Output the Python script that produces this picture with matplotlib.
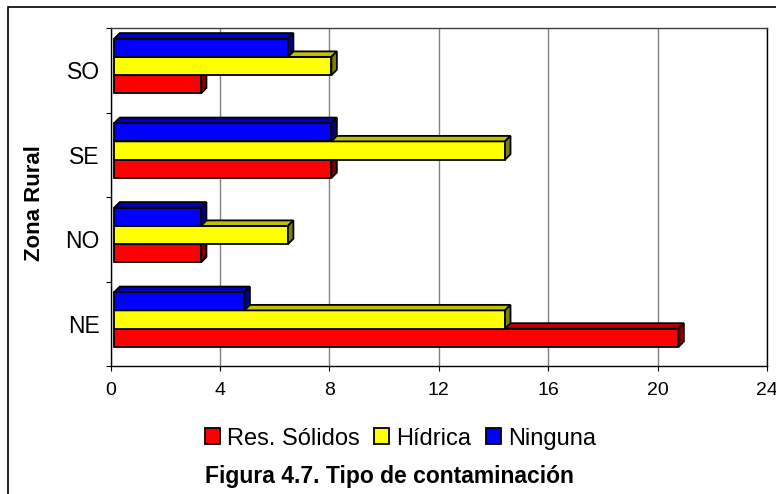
import matplotlib
matplotlib.use("Agg")
import matplotlib.pyplot as plt
from matplotlib.patches import Polygon, Rectangle, Patch

# porcentaje por zona rural y tipo de contaminacion
zonas = ['NE', 'NO', 'SE', 'SO']
series = ['Res. Sólidos', 'Hídrica', 'Ninguna']
res_solidos = [20.63, 3.17, 7.94, 3.17]
hidrica = [14.29, 6.35, 14.29, 7.94]
ninguna = [4.76, 3.17, 7.94, 6.35]
xticks = [0, 4, 8, 12, 16, 20, 24]

colores = ['#FF0000', '#FFFF00', '#0000FF']
techo = ['#C00000', '#C0C000', '#0000C0']
lado = ['#800000', '#808000', '#000080']

plt.rcParams['font.family'] = ['Liberation Sans', 'DejaVu Sans']

fig = plt.figure(figsize=(7.76, 4.94), dpi=100)
ax = fig.add_axes([0.1427, 0.2591, 0.8457, 0.6842])
ax.set_xlim(0, 24)
ax.set_ylim(-0.5, 3.5)

# barras con efecto 3d: cara frontal, techo y lado
alto = 0.2166
x0 = 0.13     # corrimiento de la cara frontal
dx = 0.20     # profundidad en x
dy = 0.065    # profundidad en y
subida = 0.05

valores = [res_solidos, hidrica, ninguna]
for j, vals in enumerate(valores):
    for i, v in enumerate(vals):
        yc = i + subida + (j - 1) * alto
        y1 = yc - alto / 2
        y2 = yc + alto / 2
        ax.barh(yc, v, height=alto, left=x0, color=colores[j],
                edgecolor='black', linewidth=1.3, zorder=3 + j)
        top = Polygon([(x0, y2), (x0 + dx, y2 + dy), (x0 + v + dx, y2 + dy),
                       (x0 + v, y2)], closed=True, facecolor=techo[j],
                      edgecolor='black', linewidth=1.3, zorder=3 + j)
        side = Polygon([(x0 + v, y1), (x0 + v + dx, y1 + dy),
                        (x0 + v + dx, y2 + dy), (x0 + v, y2)], closed=True,
                       facecolor=lado[j], edgecolor='black', linewidth=1.3,
                       zorder=3 + j)
        ax.add_patch(top)
        ax.add_patch(side)

ax.set_xticks(xticks)
ax.set_xticklabels([str(t) for t in xticks], fontsize=14)
ax.tick_params(axis='x', direction='out', length=3.6, width=0.8, pad=8)
ax.grid(axis='x', color='#808080', linewidth=1, zorder=0)
ax.set_axisbelow(True)

ax.set_yticks([-0.5, 0.5, 1.5, 2.5, 3.5])
ax.set_yticklabels([])
ax.tick_params(axis='y', which='major', direction='out', length=3.6, width=0.8)
ax.set_yticks(range(len(zonas)), minor=True)
ax.set_yticklabels(zonas, minor=True, fontsize=16.5)
ax.tick_params(axis='y', which='minor', length=0, pad=8)

for s in ['left', 'bottom', 'right']:
    ax.spines[s].set_color('black')
    ax.spines[s].set_linewidth(1)
ax.spines['top'].set_color('#404040')
ax.spines['top'].set_linewidth(1)

fig.text(35 / 776, 1 - 203 / 494, 'Zona Rural', rotation=90, fontsize=16,
         fontweight='bold', ha='center', va='center')

handles = [Patch(facecolor=c, edgecolor='black', linewidth=1.3) for c in colores]
fig.legend(handles, series, loc='center', bbox_to_anchor=(0.516, 0.112),
           ncol=3, frameon=False, fontsize=17, handlelength=0.65,
           handleheight=0.65, handletextpad=0.3, columnspacing=0.6,
           borderpad=0)

fig.text(389 / 776, 1 - 483 / 494, 'Figura 4.7. Tipo de contaminación',
         fontsize=16.5, fontweight='bold', ha='center', va='baseline')

# marco exterior del grafico
fig.patches.append(Rectangle((8 / 776, -0.1), 1.2, 1 - 7 / 494 + 0.1,
                             transform=fig.transFigure, fill=False,
                             edgecolor='black', linewidth=1.2))

fig.savefig('out.png', dpi=100)
